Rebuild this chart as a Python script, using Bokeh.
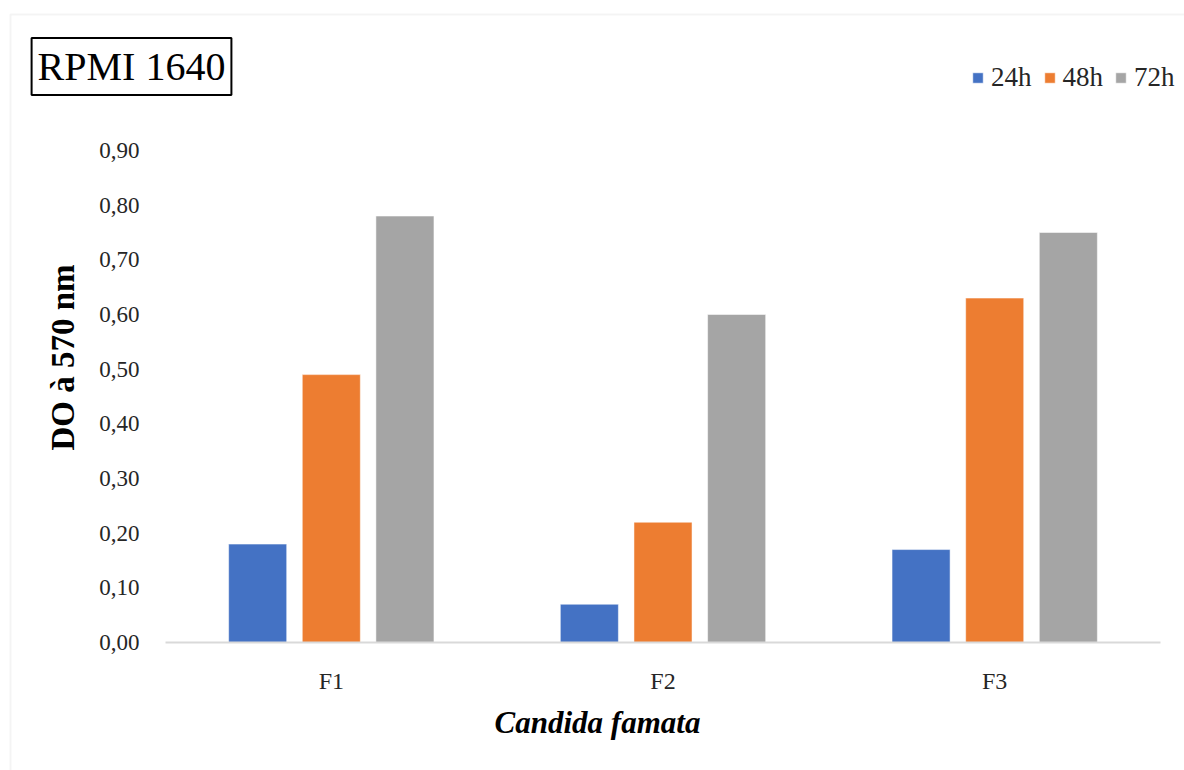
from bokeh.plotting import figure
from bokeh.models import (Range1d, Legend, LegendItem, Label, BoxAnnotation,
                          FixedTicker, ColumnDataSource)
from bokeh.embed import file_html
from bokeh.resources import INLINE
import math

# Optical density at 570 nm for each Candida famata isolate
strains = ["F1", "F2", "F3"]
od_24h = [0.18, 0.07, 0.17]
od_48h = [0.49, 0.22, 0.63]
od_72h = [0.78, 0.60, 0.75]
series_names = ["24h", "48h", "72h"]
series_colors = ["#4472C4", "#ED7D31", "#A5A5A5"]

y_ticks = [0.0, 0.1, 0.2, 0.3, 0.4, 0.5, 0.6, 0.7, 0.8, 0.9]
y_tick_labels = ["0,00", "0,10", "0,20", "0,30", "0,40", "0,50", "0,60", "0,70", "0,80", "0,90"]

FONT = "Liberation Serif"
W, H = 1184, 770

# Strains sit at integer positions; the frame spans the whole canvas so that
# the boxed title, legend and axis titles can be placed freely on it.
pos = list(range(len(strains)))

p = figure(width=W, height=H, x_range=Range1d(-0.9973, 2.5722),
           y_range=Range1d(-0.2341, 1.1743), output_backend="svg",
           toolbar_location=None, title_location=None,
           min_border=0, min_border_left=0, min_border_right=0,
           min_border_top=0, min_border_bottom=0)
p.outline_line_color = None
p.background_fill_color = "white"
p.border_fill_color = "white"
p.xgrid.grid_line_color = None
p.ygrid.grid_line_color = None

bar_w = 0.175
offsets = [-0.222, 0.0, 0.222]
renderers = []
for vals, off, color in zip([od_24h, od_48h, od_72h], offsets, series_colors):
    src = ColumnDataSource(dict(x=[i + off for i in pos], top=vals))
    r = p.vbar(x="x", top="top", width=bar_w, source=src, fill_color=color,
               line_color="white", line_alpha=0.5, line_width=1)
    renderers.append(r)

# Value axis, pinned at the left end of the category band
p.yaxis.fixed_location = -0.5
p.yaxis.ticker = FixedTicker(ticks=y_ticks)
p.yaxis.major_label_overrides = {t: l for t, l in zip(y_ticks, y_tick_labels)}
p.yaxis.axis_line_color = None
p.yaxis.major_tick_line_color = None
p.yaxis.minor_tick_line_color = None
p.yaxis.major_label_text_font = FONT
p.yaxis.major_label_text_font_size = "23px"
p.yaxis.major_label_text_color = "#262626"
p.yaxis.major_label_standoff = 20

# Category axis along y = 0
p.xaxis.fixed_location = 0
p.xaxis.bounds = (-0.5, 2.5)
p.xaxis.ticker = FixedTicker(ticks=pos)
p.xaxis.major_label_overrides = {i: s for i, s in zip(pos, strains)}
p.xaxis.axis_line_color = "#d9d9d9"
p.xaxis.axis_line_width = 2
p.xaxis.major_tick_line_color = None
p.xaxis.minor_tick_line_color = None
p.xaxis.major_label_text_font = FONT
p.xaxis.major_label_text_font_size = "24px"
p.xaxis.major_label_text_color = "#262626"
p.xaxis.major_label_standoff = 19

# Chart area border (left and top edges fall inside the canvas)
p.add_layout(BoxAnnotation(left=10, right=W + 50, top=H - 14, bottom=-50,
                           left_units="screen", right_units="screen",
                           top_units="screen", bottom_units="screen",
                           fill_alpha=0, line_color="#d9d9d9", line_width=2))

# Axis titles
p.add_layout(Label(x=62, y=H - 357, x_units="screen", y_units="screen",
                   text="DO à 570 nm", angle=math.pi / 2, text_align="center",
                   text_baseline="middle", text_font=FONT,
                   text_font_size="33px", text_font_style="bold", text_color="black"))
p.add_layout(Label(x=597, y=H - 722, x_units="screen", y_units="screen",
                   text="Candida famata", text_align="center",
                   text_baseline="middle", text_font=FONT,
                   text_font_size="31px", text_font_style="bold italic",
                   text_color="black"))

# Boxed medium title
p.add_layout(Label(x=131, y=H - 66, x_units="screen", y_units="screen",
                   text="RPMI 1640", text_align="center", text_baseline="middle",
                   text_font=FONT, text_font_size="40px", text_color="black",
                   border_line_color="black", border_line_width=2,
                   background_fill_color="white", padding=6))

legend = Legend(items=[LegendItem(label=n, renderers=[r]) for n, r in zip(series_names, renderers)],
                orientation="horizontal", location=(971, H - 93),
                glyph_width=13, glyph_height=13, label_standoff=7, spacing=11,
                padding=0, margin=0, border_line_color=None,
                background_fill_alpha=0, label_text_font=FONT,
                label_text_font_size="27px", label_text_color="#262626")
p.add_layout(legend, "center")

open("out.html", "w").write(file_html(p, INLINE))
